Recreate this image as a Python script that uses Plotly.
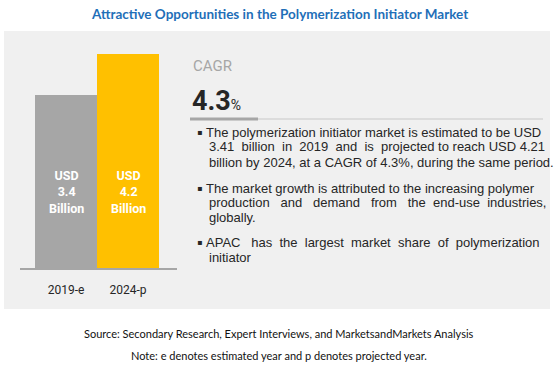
import plotly.graph_objects as go

# ---- data ----
years = ["2019-e", "2024-p"]
market_values = [3.41, 4.21]  # USD billion
bar_colors = ["#a6a6a6", "#ffc000"]
cagr_value = 4.3
title_text = "Attractive Opportunities in the Polymerization Initiator Market"
bullets = [
    ["The polymerization initiator market is estimated to be USD",
     "3.41 billion in 2019 and is projected to reach USD 4.21",
     "billion by 2024, at a CAGR of 4.3%, during the same period."],
    ["The market growth is attributed to the increasing polymer",
     "production and demand from the end-use industries,",
     "globally."],
    ["APAC has the largest market share of polymerization",
     "initiator"],
]
source_text = "Source: Secondary Research, Expert Interviews, and MarketsandMarkets Analysis"
note_text = "Note: e denotes estimated year and p denotes projected year."

# extra non-breaking spaces used to imitate the justified paragraph layout
justify_extra = [[0, 6, 0], [0, 10, 0], [8, 0]]

W, H = 558, 370


def px(x):
    return x / W


def py(y):
    return 1 - y / H


def justify(line, extra):
    words = line.split(" ")
    gaps = len(words) - 1
    if extra <= 0 or gaps <= 0:
        return line
    out = words[0]
    for i, w in enumerate(words[1:]):
        n = extra // gaps + (1 if i < extra % gaps else 0)
        out += " " + "\u00a0" * n + w
    return out


fig = go.Figure()
fig.add_trace(go.Bar(
    x=years, y=market_values, marker_color=bar_colors, marker_line_width=0,
    width=1.0, hoverinfo="skip", showlegend=False,
))

annotations = []
# bar labels
for yr, v in zip(years, market_values):
    annotations.append(dict(
        x=yr, y=1.5, xref="x", yref="y", showarrow=False, yanchor="middle",
        text=f"<b>USD<br>{v:.1f}<br>Billion</b>",
        font=dict(family="Roboto", size=12.5, color="white"),
        align="center",
    ))

# title
annotations.append(dict(x=px(279), y=py(14), xref="paper", yref="paper", showarrow=False,
                        yanchor="middle", text=f"<b>{title_text}</b>",
                        font=dict(family="Lato", size=13.5, color="#1f6fb8")))
# CAGR
annotations.append(dict(x=px(191), y=py(66), xref="paper", yref="paper", showarrow=False,
                        xanchor="left", yanchor="middle", text="CAGR",
                        font=dict(family="Roboto", size=15, color="#a6a6a6")))
annotations.append(dict(x=px(190), y=py(101), xref="paper", yref="paper", showarrow=False,
                        xanchor="left", yanchor="middle",
                        text=f"<b>{cagr_value}</b><span style='font-size:14px'>%</span>",
                        font=dict(family="Roboto", size=27, color="#262626")))

# bullets
line_y = [[132, 147, 163], [188, 203, 217], [242, 257]]
for blk, ys, ex in zip(bullets, line_y, justify_extra):
    annotations.append(dict(x=px(195), y=py(ys[0]), xref="paper", yref="paper", showarrow=False,
                            xanchor="left", yanchor="middle", text="▪",
                            font=dict(family="DejaVu Sans", size=8, color="#262626")))
    for i, (ln, yy, e) in enumerate(zip(blk, ys, ex)):
        annotations.append(dict(x=px(204 if i == 0 else 207), y=py(yy), xref="paper", yref="paper",
                                showarrow=False, xanchor="left", yanchor="middle",
                                text=justify(ln, e),
                                font=dict(family="Liberation Sans", size=13, color="#262626")))

annotations.append(dict(x=px(279), y=py(333), xref="paper", yref="paper", showarrow=False,
                        yanchor="middle", text=source_text,
                        font=dict(family="Lato", size=11, color="#111111")))
annotations.append(dict(x=px(279), y=py(355), xref="paper", yref="paper", showarrow=False,
                        yanchor="middle", text=note_text,
                        font=dict(family="Lato", size=11, color="#111111")))

shapes = [
    dict(type="rect", xref="paper", yref="paper", x0=px(4), x1=px(550), y0=py(309), y1=py(31),
         fillcolor="#f0f0f0", line_width=0, layer="below"),
    dict(type="line", xref="paper", yref="paper", x0=px(258), x1=px(543), y0=py(119), y1=py(119),
         line=dict(color="#c8c8c8", width=1)),
    dict(type="line", xref="paper", yref="paper", x0=px(190), x1=px(258), y0=py(119), y1=py(119),
         line=dict(color="#a6a6a6", width=3)),
]

top_px = 40
scale = (268 - 54) / market_values[1]
fig.update_layout(
    width=W, height=H, margin=dict(l=0, r=0, t=0, b=0),
    paper_bgcolor="white", plot_bgcolor="rgba(0,0,0,0)",
    bargap=0,
    xaxis=dict(domain=[px(20), px(177)], range=[-0.742, 1.79], type="category",
               showline=True, linecolor="#a6a6a6", linewidth=2, showgrid=False, ticks="",
               ticklabelstandoff=10,
               tickfont=dict(family="Roboto", size=12, color="#262626"),
               fixedrange=True),
    yaxis=dict(domain=[py(268), py(top_px)], range=[0, (268 - top_px) / scale], visible=False,
               fixedrange=True),
    annotations=annotations, shapes=shapes,
)

fig.write_html("out.html", config={"displayModeBar": False},
               post_script="document.body.style.margin='0px';")
